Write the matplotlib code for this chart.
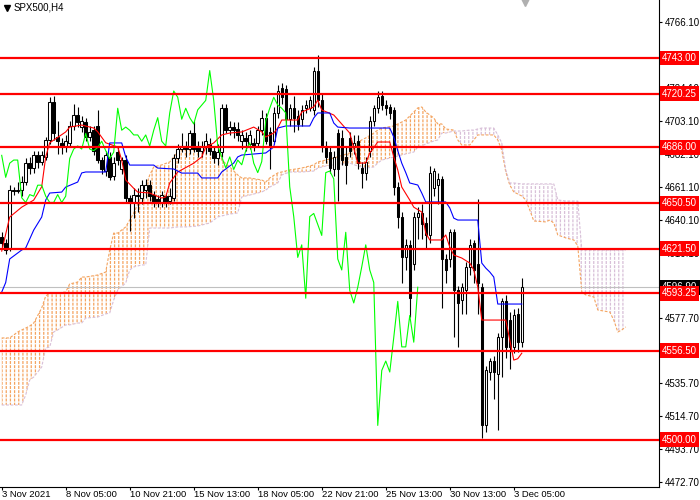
import numpy as np
import matplotlib.pyplot as plt

# SPX500 H4 candles (price values)
opens = [4629, 4625, 4622, 4659, 4658, 4659, 4664, 4676, 4673, 4681,
         4677, 4680, 4691, 4715, 4693, 4689, 4686, 4689, 4700, 4707,
         4699, 4702, 4693, 4697, 4700, 4678, 4671, 4680, 4668, 4683,
         4672, 4678, 4654, 4651, 4656, 4654, 4659, 4662, 4656, 4653,
         4651, 4655, 4652, 4654, 4679, 4685, 4687, 4685, 4695, 4686,
         4684, 4686, 4688, 4684, 4679, 4683, 4711, 4697, 4699, 4698,
         4690, 4692, 4688, 4689, 4689, 4697, 4705, 4696, 4690, 4708,
         4724, 4723, 4704, 4711, 4706, 4704, 4711, 4711, 4710, 4735,
         4716, 4686, 4683, 4672, 4695, 4692, 4680, 4692, 4686, 4690,
         4673, 4670, 4684, 4703, 4711, 4719, 4713, 4712, 4710, 4661,
         4642, 4616, 4624, 4612, 4642, 4644, 4638, 4630, 4660, 4662,
         4666, 4615, 4615, 4632, 4595, 4589, 4595, 4610, 4625, 4612,
         4597, 4509, 4543, 4550, 4542, 4565, 4588, 4576, 4559, 4580,
         4562]
highs = [4632, 4628, 4662, 4661, 4664, 4668, 4679, 4680, 4684, 4684,
         4684, 4693, 4718, 4719, 4703, 4692, 4694, 4703, 4714, 4712,
         4706, 4705, 4700, 4700, 4710, 4680, 4684, 4683, 4680, 4686,
         4680, 4681, 4656, 4660, 4660, 4665, 4666, 4665, 4658, 4656,
         4658, 4657, 4660, 4682, 4688, 4695, 4690, 4697, 4703, 4690,
         4690, 4695, 4692, 4687, 4688, 4714, 4714, 4703, 4702, 4702,
         4697, 4696, 4697, 4692, 4700, 4710, 4708, 4699, 4712, 4726,
         4727, 4726, 4714, 4719, 4710, 4713, 4716, 4719, 4737, 4745,
         4720, 4690, 4686, 4684, 4698, 4697, 4686, 4696, 4694, 4694,
         4677, 4680, 4706, 4713, 4722, 4722, 4716, 4714, 4712, 4664,
         4645, 4628, 4627, 4645, 4648, 4650, 4642, 4674, 4673, 4670,
         4668, 4618, 4634, 4634, 4598, 4600, 4613, 4628, 4627, 4653,
         4600, 4547, 4552, 4553, 4568, 4590, 4592, 4581, 4583, 4584,
         4603]
lows = [4622, 4618, 4620, 4656, 4657, 4655, 4662, 4669, 4670, 4673,
        4675, 4678, 4688, 4691, 4682, 4682, 4683, 4686, 4697, 4699,
        4696, 4690, 4690, 4681, 4676, 4669, 4668, 4665, 4665, 4675,
        4669, 4651, 4633, 4641, 4645, 4650, 4654, 4652, 4648, 4648,
        4648, 4648, 4650, 4652, 4676, 4683, 4680, 4682, 4683, 4680,
        4680, 4682, 4681, 4676, 4675, 4680, 4695, 4694, 4692, 4690,
        4685, 4684, 4685, 4684, 4686, 4694, 4688, 4672, 4688, 4705,
        4714, 4700, 4700, 4696, 4697, 4700, 4708, 4709, 4707, 4712,
        4683, 4676, 4670, 4668, 4652, 4675, 4663, 4680, 4682, 4672,
        4660, 4665, 4680, 4700, 4708, 4710, 4707, 4704, 4656, 4635,
        4600, 4608, 4578, 4608, 4628, 4628, 4622, 4625, 4655, 4650,
        4584, 4600, 4610, 4565, 4559, 4580, 4580, 4605, 4600, 4580,
        4501, 4505, 4538, 4526, 4506, 4540, 4552, 4545, 4555, 4556,
        4559]
closes = [4625, 4621, 4659, 4658, 4659, 4664, 4676, 4673, 4681, 4677,
          4681, 4691, 4715, 4695, 4690, 4686, 4690, 4700, 4707, 4702,
          4703, 4693, 4696, 4684, 4678, 4672, 4681, 4667, 4676, 4678,
          4678, 4654, 4651, 4656, 4655, 4662, 4662, 4655, 4651, 4651,
          4656, 4651, 4655, 4679, 4685, 4687, 4685, 4695, 4685, 4684,
          4686, 4690, 4684, 4679, 4683, 4711, 4697, 4699, 4697, 4694,
          4694, 4690, 4694, 4687, 4697, 4705, 4690, 4687, 4708, 4722,
          4718, 4704, 4711, 4705, 4701, 4710, 4713, 4716, 4735, 4716,
          4687, 4680, 4673, 4680, 4672, 4678, 4675, 4684, 4689, 4676,
          4670, 4677, 4703, 4711, 4718, 4713, 4711, 4708, 4661, 4642,
          4616, 4624, 4590, 4642, 4644, 4637, 4630, 4670, 4671, 4666,
          4615, 4608, 4632, 4595, 4587, 4597, 4610, 4624, 4608, 4600,
          4509, 4544, 4550, 4543, 4565, 4588, 4559, 4559, 4579, 4562,
          4597]

# Ichimoku: Tenkan-sen (red), Kijun-sen (blue) as bar / price points
tenkan_bars = [0, 2, 5, 8, 10, 11, 12, 16, 17, 20, 23, 24, 26, 29, 30, 31, 33, 34, 37,
               40, 41, 42, 44, 48, 50, 51, 53, 55, 57, 60, 63, 65, 66, 68, 69, 70, 74,
               75, 78, 79, 80, 83, 87, 89, 91, 92, 94, 97, 98, 99, 100, 102, 103, 105,
               106, 107, 110, 111, 112, 113, 115, 117, 118, 119, 120, 126, 127, 128,
               129, 130]
tenkan_vals = [4620, 4641.7, 4648, 4652.5, 4661, 4680, 4689, 4695.9, 4699, 4700.3,
               4698.4, 4696, 4689, 4686.3, 4678, 4665.3, 4660, 4657.6, 4657, 4653.8,
               4654.5, 4663.4, 4670.4, 4676, 4680, 4686.3, 4688.9, 4694, 4695.2, 4695.9,
               4699, 4696, 4692.7, 4695.2, 4698.4, 4703.5, 4703.5, 4708.6, 4711.8, 4716.2,
               4709.9, 4706.7, 4695.2, 4676.1, 4676.1, 4682.5, 4689.5, 4689.5, 4680,
               4671.7, 4660.8, 4652.5, 4648, 4644.9, 4631.5, 4627.1, 4627.1, 4630.3,
               4622.6, 4617.5, 4615.6, 4612.4, 4608, 4597.1, 4576.1, 4576.1, 4563.4,
               4550.6, 4551.5, 4555]
kijun_bars = [0, 1, 2, 5, 6, 8, 10, 11, 12, 15, 16, 19, 20, 21, 26, 27, 30, 31, 32, 38,
              39, 43, 45, 49, 50, 54, 55, 58, 59, 60, 66, 68, 69, 71, 77, 78, 79, 82, 83,
              84, 87, 97, 98, 99, 100, 101, 102, 104, 105, 106, 111, 112, 113, 114, 119,
              120, 121, 122, 123, 124, 130]
kijun_vals = [4593.9, 4600, 4615, 4620.7, 4622, 4633.4, 4641.7, 4652.5, 4657, 4657.6,
              4660.8, 4664, 4669.8, 4670.4, 4670.4, 4688.9, 4688.9, 4680, 4674.8, 4674.8,
              4672.9, 4672.3, 4669.7, 4669.7, 4666.6, 4666.6, 4670.4, 4676.1, 4680, 4681.2,
              4682.5, 4686.3, 4698.4, 4699.7, 4699.7, 4704.8, 4708, 4708, 4701.6, 4699,
              4698.4, 4698.4, 4692.7, 4684, 4676, 4670, 4663.4, 4662.1, 4657, 4651.3,
              4651.3, 4647.5, 4641, 4639.8, 4639.8, 4612.4, 4609.2, 4606.7, 4603.5,
              4586.3, 4586.3]

# Kumo (Senkou Span A / B, already shifted forward)
cloud_bars = [0, 2, 3, 4, 5, 6, 7, 8, 10, 11, 12, 13, 14, 16, 17, 19, 20, 21, 24, 26,
              27, 28, 29, 31, 32, 33, 35, 36, 37, 38, 40, 42, 44, 46, 49, 52, 54, 55, 57,
              59, 60, 62, 65, 66, 67, 69, 70, 72, 75, 78, 79, 81, 83, 87, 89, 91, 93, 94,
              95, 98, 101, 103, 104, 105, 106, 108, 109, 110, 111, 113, 114, 115, 117,
              118, 119, 120, 123, 124, 125, 126, 127, 128, 130, 131, 132, 133, 136, 137,
              138, 139, 141, 143, 144, 145, 146, 148, 149, 152, 153, 154, 155, 156]
span_a = [4564.7, 4564.7, 4566.6, 4568.5, 4569.8, 4571.0, 4572.3, 4574.2, 4583.8, 4591.4,
          4593.3, 4593.3, 4593.3, 4594.0, 4599.1, 4600.3, 4603.5, 4603.5, 4604.8, 4606.7,
          4620.7, 4631.5, 4631.5, 4635.4, 4639.8, 4644.3, 4655.7, 4660.8, 4668.5, 4673.6,
          4674.9, 4676.8, 4683.1, 4685.7, 4686.3, 4686.3, 4686.3, 4678.0, 4673.6, 4668.5,
          4666.6, 4666.6, 4665.3, 4664.0, 4666.6, 4669.8, 4670.4, 4671.7, 4672.9, 4674.9,
          4676.8, 4678.0, 4679.3, 4682.5, 4689.5, 4692.1, 4695.2, 4697.1, 4698.4, 4699.7,
          4703.5, 4708.6, 4711.2, 4711.8, 4708.6, 4704.8, 4701.0, 4701.0, 4697.8, 4697.1,
          4690.8, 4687.6, 4687.6, 4690.8, 4694.0, 4694.0, 4694.0, 4690.8, 4684.4, 4670.4,
          4662.1, 4657.7, 4655.1, 4652.6, 4646.2, 4639.2, 4638.6, 4639.8, 4637.9, 4630.3,
          4628.4, 4627.1, 4623.3, 4594.0, 4592.1, 4590.8, 4582.5, 4581.2, 4576.1, 4568.5,
          4569.8, 4571.7]
span_b = [4522.0, 4522.0, 4522.0, 4522.0, 4522.0, 4528.4, 4537.9, 4539.8, 4546.2, 4558.3,
          4558.9, 4568.5, 4569.8, 4573.0, 4573.0, 4574.2, 4574.2, 4577.4, 4578.0, 4580.0,
          4580.6, 4588.9, 4595.2, 4599.7, 4608.0, 4609.9, 4611.2, 4611.2, 4634.7, 4634.7,
          4634.7, 4634.7, 4635.4, 4635.4, 4636.0, 4637.9, 4641.7, 4642.4, 4643.6, 4644.3,
          4654.5, 4655.7, 4657.7, 4658.9, 4660.8, 4663.4, 4668.5, 4670.4, 4670.4, 4671.0,
          4672.9, 4674.2, 4674.9, 4676.1, 4674.2, 4672.9, 4673.6, 4676.1, 4678.0, 4679.9,
          4681.9, 4683.1, 4686.3, 4687.0, 4688.2, 4690.1, 4690.8, 4695.2, 4695.2, 4696.5,
          4696.5, 4696.5, 4697.1, 4697.1, 4697.8, 4698.4, 4698.4, 4694.0, 4688.9, 4671.7,
          4663.4, 4663.4, 4662.8, 4662.8, 4662.8, 4662.8, 4662.8, 4662.8, 4662.8, 4652.6,
          4651.9, 4651.9, 4651.9, 4620.7, 4620.7, 4620.7, 4620.7, 4620.7, 4620.7, 4620.7,
          4620.7, 4620.7]

levels = [4743.00, 4720.25, 4686.00, 4650.50, 4621.50, 4593.25, 4556.50, 4500.00]
bid_price = 4596.90

price_ticks = [4766.10, 4745.10, 4724.10, 4703.10, 4682.10, 4661.10, 4640.10, 4619.10,
               4598.10, 4577.70, 4556.70, 4535.70, 4514.70, 4493.70, 4472.70]
time_tick_bars = [0, 16, 32, 48, 64, 80, 96, 112, 128]
time_tick_labels = ['3 Nov 2021', '8 Nov 05:00', '10 Nov 21:00', '15 Nov 13:00',
                    '18 Nov 05:00', '22 Nov 21:00', '25 Nov 13:00', '30 Nov 13:00',
                    '3 Dec 05:00']

plt.rcParams['font.family'] = ['Liberation Sans', 'DejaVu Sans']
plt.rcParams['hatch.linewidth'] = 0.9

fig = plt.figure(figsize=(7, 5), dpi=100)
ax = fig.add_axes([0, 13 / 500, 659 / 700, 487 / 500])

# --- cloud: vertical hatch, broken into dashes by a white horizontal hatch
ca = np.array(span_a)
cb = np.array(span_b)
ax.fill_between(cloud_bars, ca, cb, where=ca >= cb, interpolate=True, facecolor='none',
                edgecolor='#f4a460', hatch='||||', linewidth=0, zorder=1)
ax.fill_between(cloud_bars, ca, cb, where=ca < cb, interpolate=True, facecolor='none',
                edgecolor='#d8bfd8', hatch='||||', linewidth=0, zorder=1)
ax.fill_between(cloud_bars, ca, cb, facecolor='none', edgecolor='white', hatch='----',
                linewidth=0, zorder=1.1)
ax.plot(cloud_bars, span_a, color='#f4a460', lw=0.8, ls=(0, (2.5, 1.5)), zorder=1.2)
ax.plot(cloud_bars, span_b, color='#d8bfd8', lw=0.8, ls=(0, (2.5, 1.5)), zorder=1.2)

# --- bid line
ax.axhline(bid_price, color='#c0c0c0', lw=0.8, zorder=1.5)

# --- candles
x = np.arange(len(closes))
o = np.array(opens, dtype=float)
c = np.array(closes, dtype=float)
ax.vlines(x, lows, highs, color='black', lw=0.8, zorder=2)
body_low = np.minimum(o, c)
body_h = np.maximum(np.abs(c - o), 0.3)
body_col = ['white' if cc >= oo else 'black' for oo, cc in zip(o, c)]
ax.bar(x, body_h, bottom=body_low, width=0.62, color=body_col, edgecolor='black',
       linewidth=0.75, zorder=2.1)

# --- ichimoku lines
ax.plot(tenkan_bars, tenkan_vals, color='#ff0000', lw=0.8, zorder=3)
ax.plot(kijun_bars, kijun_vals, color='#0000ff', lw=0.8, zorder=3)
ax.plot(x[:-26], c[26:], color='#00ff00', lw=0.8, zorder=3)  # chikou

# --- horizontal levels
for lv in levels:
    ax.axhline(lv, color='#ff0000', lw=1.6, zorder=4)

ytr = ax.get_yaxis_transform()
ax.text(1 + 3 / 659, bid_price, f'{bid_price:.2f}', transform=ytr, va='center', ha='left',
        color='white', fontsize=7, clip_on=False, zorder=5,
        bbox=dict(boxstyle='square,pad=0.25', fc='black', ec='none'))
for lv in levels:
    ax.text(1 + 3 / 659, lv, f'{lv:.2f}', transform=ytr, va='center', ha='left',
            color='white', fontsize=7, clip_on=False, zorder=6,
            bbox=dict(boxstyle='square,pad=0.25', fc='#ff0000', ec='none'))

# --- axes
ax.set_xlim(-0.425, 164.3)
ax.set_ylim(4469.77, 4779.94)
ax.yaxis.tick_right()
ax.set_yticks(price_ticks)
ax.set_yticklabels([f'{p:.2f}' for p in price_ticks])
ax.set_xticks(time_tick_bars)
ax.set_xticklabels(time_tick_labels)
for lab in ax.get_xticklabels():
    lab.set_ha('left')
ax.tick_params(axis='y', labelsize=7, length=2.5, width=0.8, pad=1.5, colors='black')
ax.tick_params(axis='x', labelsize=6.8, length=2, width=0.8, pad=0.5, colors='black')
for side in ['left', 'top']:
    ax.spines[side].set_visible(False)
for side in ['right', 'bottom']:
    ax.spines[side].set_linewidth(0.8)

# title and shift marker
ax.plot([7 / 659], [1 - 8 / 487], marker='v', color='black', ms=4, transform=ax.transAxes,
        clip_on=False, zorder=6)
ax.text(14 / 659, 1 - 8 / 487, 'SPX500,H4', transform=ax.transAxes, fontsize=7, va='center',
        ha='left', zorder=6)
ax.plot([525 / 659], [1 - 2 / 487], marker='v', color='#b0b0b0', ms=6, transform=ax.transAxes,
        clip_on=False, zorder=6)

fig.savefig('out.png', dpi=100)
